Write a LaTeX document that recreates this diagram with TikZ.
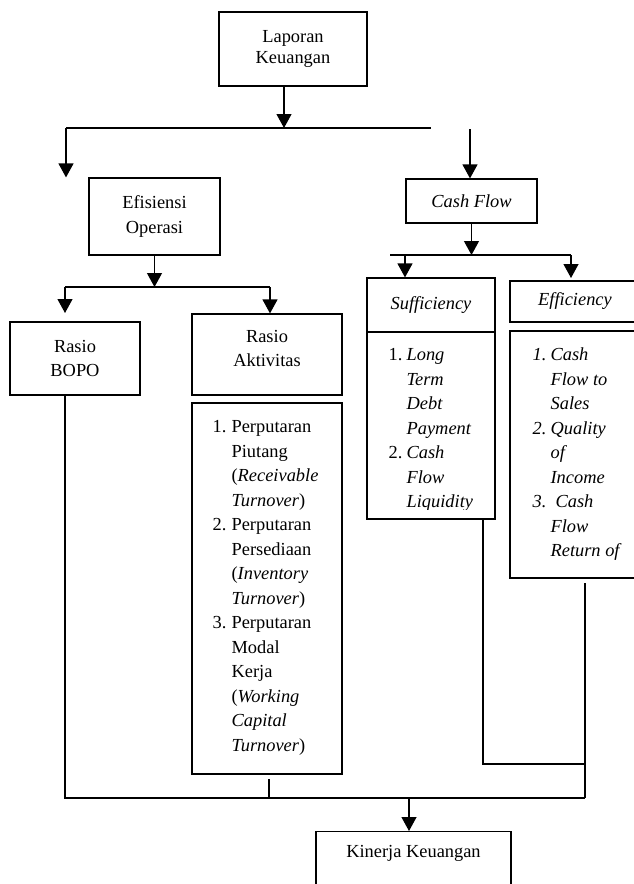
\documentclass[tikz,border=0pt]{standalone}
\usepackage{fontspec}
\setmainfont{Liberation Serif}
\usetikzlibrary{arrows.meta,positioning,calc}

\newcommand{\chartfont}{\fontsize{18.4}{24.5}\selectfont}
\tikzset{
  box/.style={draw, line width=1.2pt, inner sep=0pt, align=center, font=\chartfont},
  txt/.style={inner sep=0pt, align=left, font=\chartfont}
}

\begin{document}
\begin{tikzpicture}[x=1pt, y=-1pt, line width=1.2pt, >={Triangle[width=15pt,length=14pt]}]
    \useasboundingbox (0,0) rectangle (634,884);
    \clip (0,0) rectangle (634,884);

    % Laporan Keuangan
    \node[box, minimum width=148, minimum height=74] (lk) at (293,49) {Laporan\\[-2.8pt]Keuangan};
    \coordinate (lkout) at (284,86);
    \coordinate (b1l) at (66,128);
    \coordinate (b1r) at (431,128);
    \coordinate (b1c) at (470,129);
    \draw (b1l) -- (b1r);
    \draw[->] (lkout) -- (lkout |- b1l);

    % Efisiensi Operasi
    \node[box, minimum width=131, minimum height=77] (eo) at (154.5,216.5) {Efisiensi\\Operasi};
    \draw[->] (b1l) -- (b1l |- eo.north);
    \coordinate (b2l) at (65,287);
    \coordinate (b2r) at (270,287);
    \coordinate (bopoin) at (65,313);
    \draw (b2l) -- (b2r);
    \draw[->] (eo.south) -- (eo.south |- b2l);

    \node[box, minimum width=130, minimum height=73] (bopo) at (75,358.5) {Rasio\\BOPO};
    \node[box, minimum width=150, minimum height=81,
          label={[txt, align=center, yshift=6pt]center:Rasio\\Aktivitas}] (ra) at (267,354.5) {};
    \draw[->] (b2l) -- (bopoin);
    \draw[->] (b2r) -- (b2r |- ra.north);

    \node[box, minimum width=150, minimum height=371] (ralist) at (267,588.5) {};
    \node[txt, anchor=north west] (ratext) at (212,414.9) {%
      \begin{tabular}{@{}p{19pt}@{}l@{}}
        1. & Perputaran\\
           & Piutang\\
           & (\textit{Receivable}\\
           & \textit{Turnover})\\
        2. & Perputaran\\
           & Persediaan\\
           & (\textit{Inventory}\\
           & \textit{Turnover})\\
        3. & Perputaran\\
           & Modal\\
           & Kerja\\
           & (\textit{Working}\\
           & \textit{Capital}\\
           & \textit{Turnover})
      \end{tabular}};

    % Cash Flow
    \node[box, minimum width=131, minimum height=44, font=\chartfont\itshape] (cf) at (471.5,201) {Cash Flow};
    \draw[->] (b1c) -- (b1c |- cf.north);
    \coordinate (b4l) at (390,255);
    \coordinate (b4a) at (405,255);
    \coordinate (b4r) at (571,255);
    \coordinate (effin) at (571,278);
    \draw (b4l) -- (b4r);
    \draw[->] (cf.south) -- (cf.south |- b4l);

    \node[box, minimum width=128, minimum height=54, font=\chartfont\itshape] (suf) at (431,305) {Sufficiency};
    \node[box, minimum width=128, minimum height=187] (suflist) at (431,425.5) {};
    \draw[->] (b4a) -- (b4a |- suf.north);
    \begin{scope}
      \clip (367,332) rectangle (495,509);
      \node[txt, anchor=north west] (suftext) at (388,342.9) {%
        \begin{tabular}{@{}p{18pt}@{}l@{}}
          1. & \textit{Long}\\
             & \textit{Term}\\
             & \textit{Debt}\\
             & \textit{Payment}\\
          2. & \textit{Cash}\\
             & \textit{Flow}\\
             & \textit{Liquidity}
        \end{tabular}};
    \end{scope}

    \node[box, minimum width=130, minimum height=41, font=\chartfont\itshape] (eff) at (575,301.5) {Efficiency};
    \node[box, minimum width=130, minimum height=247] (efflist) at (575,454.5) {};
    \draw[->] (b4r) -- (effin);
    \node[txt, anchor=north west, font=\chartfont\itshape] (efftext) at (532,342.9) {%
      \begin{tabular}{@{}p{18pt}@{}l@{}}
        1. & Cash\\
           & Flow to\\
           & Sales\\
        2. & Quality\\
           & of\\
           & Income\\
        3. & \hspace{5pt}Cash\\
           & Flow\\
           & Return of
      \end{tabular}};

    % Kinerja Keuangan
    \coordinate (b3l) at (65,798);
    \coordinate (b3r) at (585,798);
    \coordinate (b3j) at (585,764);
    \coordinate (raout) at (269,779);
    \coordinate (sufout) at (483,519);
    \coordinate (effout) at (585,583);
    \coordinate (kkin) at (409,798);
    \draw (bopo.south -| b3l) -- (b3l) -- (b3r);
    \draw (raout) -- (raout |- b3l);
    \draw (sufout) |- (b3j);
    \draw (effout) -- (b3r);

    \node[box, minimum width=195, minimum height=80, anchor=north] (kk) at (413.5,831) {};
    \node[txt] (kktext) at (413.5,853) {Kinerja Keuangan};
    \draw[->] (kkin) -- (kkin |- kk.north);
\end{tikzpicture}
\end{document}
